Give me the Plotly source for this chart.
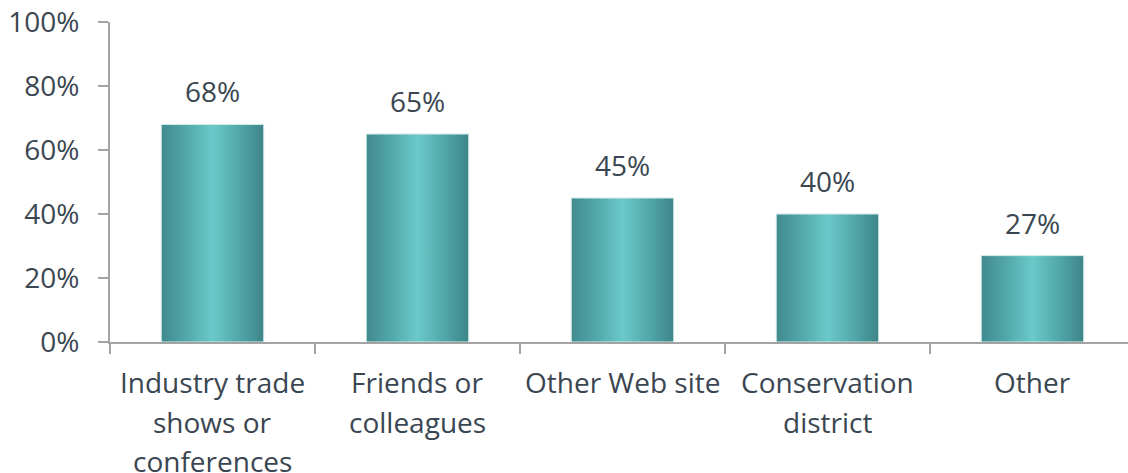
import plotly.graph_objects as go

# Survey results: share of respondents per information source
categories = ["Industry trade<br>shows or<br>conferences", "Friends or<br>colleagues",
              "Other Web site", "Conservation<br>district", "Other"]
values = [68, 65, 45, 40, 27]
value_labels = ["68%", "65%", "45%", "40%", "27%"]
y_ticks = [0, 20, 40, 60, 80, 100]
y_tick_labels = ["0%", "20%", "40%", "60%", "80%", "100%"]

FONT = "Open Sans"
SIZE = 28
TEXT = "#3a4651"
AXIS = "#a3a3a3"
BAR_HALF = 0.25  # half bar width in category units
LINE_GAP = 39.5  # px between category label lines

# cylinder-like shading across each bar
shade = [[0.0, "#418a8e"], [0.25, "#52a8aa"], [0.5, "#6bc9c9"],
         [0.78, "#4fa4a6"], [1.0, "#3e8589"]]

fig = go.Figure()
for i, v in enumerate(values):
    x0, x1 = i - BAR_HALF, i + BAR_HALF
    fig.add_trace(go.Scatter(
        x=[x0, x1, x1, x0, x0], y=[0, 0, v, v, 0],
        mode="lines", fill="toself",
        fillgradient=dict(type="horizontal", colorscale=shade),
        line=dict(color="#d5ecec", width=1),
        hoverinfo="skip", showlegend=False))

annotations = []
# value labels above bars
for i, (v, lab) in enumerate(zip(values, value_labels)):
    annotations.append(dict(x=i, y=v, xref="x", yref="y", text=lab, showarrow=False,
                            yanchor="bottom", yshift=12,
                            font=dict(family=FONT, size=SIZE, color=TEXT)))
# category labels under the axis, one line at a time
for i, cat in enumerate(categories):
    for k, line in enumerate(cat.split("<br>")):
        annotations.append(dict(x=i, y=0, xref="x", yref="y", text=line, showarrow=False,
                                yanchor="middle", yshift=-40 - LINE_GAP * k,
                                font=dict(family=FONT, size=SIZE, color=TEXT)))

fig.update_layout(
    width=1128, height=473,
    margin=dict(l=110, r=0, t=22, b=131),
    paper_bgcolor="white", plot_bgcolor="white",
    font=dict(family=FONT, size=SIZE, color=TEXT),
    annotations=annotations,
    xaxis=dict(
        range=[-0.5, 4.466], tickmode="array",
        tickvals=list(range(len(categories))), showticklabels=False,
        ticks="", showgrid=False, zeroline=False,
        showline=True, linecolor=AXIS, linewidth=2,
        minor=dict(tickmode="array", tickvals=[i - 0.5 for i in range(len(categories) + 1)],
                   ticks="outside", ticklen=10, tickwidth=2, tickcolor=AXIS, showgrid=False),
        fixedrange=True),
    yaxis=dict(
        range=[0, 100], tickmode="array", tickvals=y_ticks, ticktext=y_tick_labels,
        ticks="outside", ticklen=10, tickwidth=2, tickcolor=AXIS,
        showgrid=False, zeroline=False,
        showline=True, linecolor=AXIS, linewidth=2,
        ticklabelstandoff=13, fixedrange=True),
)

fig.write_html("out.html")
